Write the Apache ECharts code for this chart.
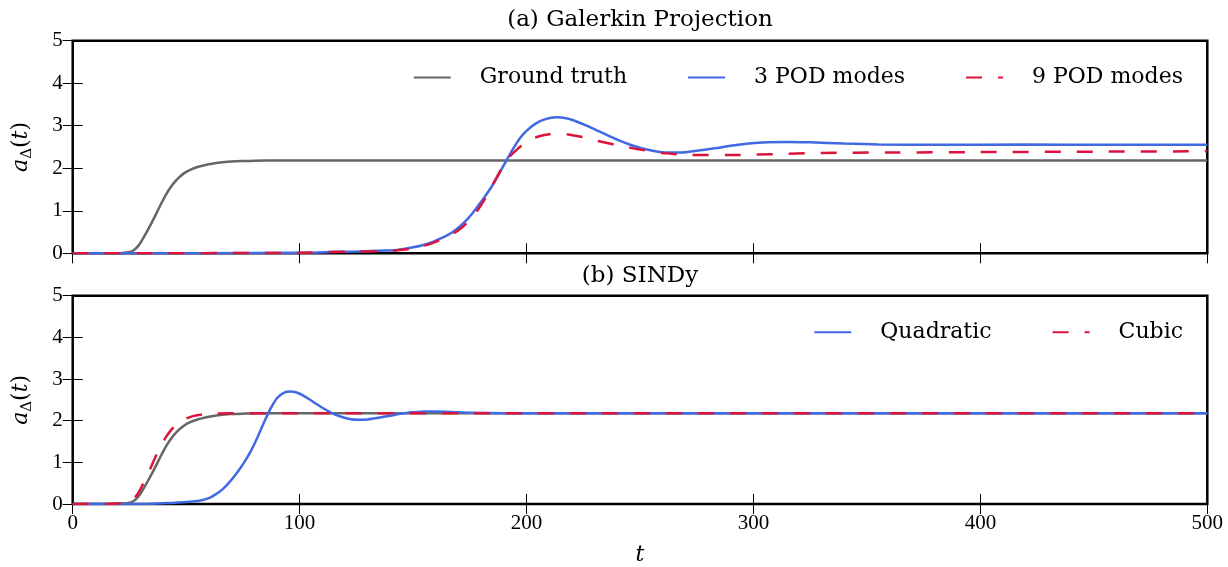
<!DOCTYPE html>
<html>
<head>
<meta charset="utf-8">
<script src="https://cdn.jsdelivr.net/npm/echarts@6/dist/echarts.min.js"></script>
<style>
  html, body { margin: 0; padding: 0; background: #fff; }
  #chart { width: 1228px; height: 567px; }
</style>
</head>
<body>
<div id="chart"></div>
<script>
// Axis ticks
const tTicks = [0, 100, 200, 300, 400, 500];
const aTicks = [0, 1, 2, 3, 4, 5];

// Ground truth trajectory (shared by both panels)
const truthT = [0, 10, 18, 22, 25, 27, 29, 31, 33, 35, 37, 39, 41, 43, 45, 47, 49, 52, 55, 58, 62, 66, 70, 76, 85, 100, 200, 300, 400, 500];
const truthA = [0, 0, 0, 0.01, 0.03, 0.08, 0.18, 0.35, 0.54, 0.74, 0.95, 1.17, 1.37, 1.54, 1.68, 1.79, 1.88, 1.97, 2.03, 2.07, 2.11, 2.14, 2.16, 2.17, 2.18, 2.18, 2.18, 2.18, 2.18, 2.18];

// (a) Galerkin projection, 3 POD modes
const pod3T = [0, 100, 113, 125, 135, 143, 150, 155, 160, 165, 169, 173, 176, 179, 182, 185, 188, 191, 194, 197, 200, 204, 208, 213, 218, 222, 227, 231, 236, 241, 247, 253, 258, 263, 268, 275, 283, 290, 298, 306, 315, 325, 340, 355, 380, 420, 460, 500];
const pod3A = [0, 0.01, 0.03, 0.04, 0.06, 0.08, 0.14, 0.2, 0.3, 0.42, 0.56, 0.75, 0.93, 1.14, 1.36, 1.60, 1.88, 2.17, 2.45, 2.70, 2.88, 3.05, 3.15, 3.20, 3.17, 3.10, 2.99, 2.89, 2.77, 2.65, 2.53, 2.44, 2.39, 2.37, 2.37, 2.41, 2.47, 2.53, 2.58, 2.61, 2.62, 2.61, 2.58, 2.56, 2.55, 2.56, 2.55, 2.55];

// (a) Galerkin projection, 9 POD modes
const pod9T = [0, 100, 113, 125, 135, 143, 150, 155, 160, 165, 170, 174, 178, 181, 184, 187, 190, 193, 196, 199, 202, 206, 210, 214, 219, 225, 230, 235, 240, 245, 250, 256, 262, 270, 280, 290, 300, 315, 330, 360, 400, 450, 500];
const pod9A = [0, 0.01, 0.03, 0.04, 0.05, 0.07, 0.12, 0.18, 0.27, 0.39, 0.54, 0.73, 0.98, 1.22, 1.50, 1.80, 2.08, 2.30, 2.45, 2.58, 2.68, 2.76, 2.80, 2.81, 2.79, 2.73, 2.66, 2.60, 2.54, 2.49, 2.44, 2.39, 2.35, 2.32, 2.31, 2.31, 2.32, 2.34, 2.36, 2.37, 2.38, 2.39, 2.40];

// (b) SINDy, quadratic library
const quadT = [0, 30, 40, 45, 50, 55, 60, 63, 66, 69, 72, 75, 78, 81, 84, 87, 90, 93, 96, 99, 102, 106, 110, 114, 118, 122, 126, 130, 135, 140, 145, 150, 155, 160, 167, 175, 190, 250, 350, 500];
const quadA = [0, 0, 0.02, 0.03, 0.05, 0.07, 0.14, 0.23, 0.35, 0.52, 0.72, 0.95, 1.22, 1.55, 1.92, 2.27, 2.54, 2.67, 2.70, 2.67, 2.59, 2.45, 2.31, 2.19, 2.10, 2.04, 2.02, 2.03, 2.07, 2.12, 2.17, 2.20, 2.22, 2.22, 2.21, 2.19, 2.18, 2.18, 2.18, 2.18];

// (b) SINDy, cubic library
const cubicT = [0, 15, 19, 23, 25, 27, 29, 31, 33, 35, 37, 39, 41, 43, 45, 47, 50, 53, 57, 62, 70, 100, 200, 300, 400, 500];
const cubicA = [0, 0, 0.01, 0.03, 0.06, 0.13, 0.27, 0.48, 0.70, 0.95, 1.19, 1.41, 1.60, 1.75, 1.87, 1.96, 2.05, 2.11, 2.15, 2.17, 2.18, 2.18, 2.18, 2.18, 2.18, 2.18];

const SERIF = 'DejaVu Serif';
const NUM = 'Liberation Serif';
const GRAY = '#666666', BLUE = '#4169e1', RED = '#dc143c';

const pairs = (ts, vs) => ts.map((t, i) => [t, vs[i]]);

const tickStyle = { show: true, inside: true, length: 10, lineStyle: { color: '#000', width: 1 } };

function tAxis(grid, position, withLabels) {
  const ax = {
    type: 'value', gridIndex: grid, position,
    min: tTicks[0], max: tTicks[tTicks.length - 1], interval: tTicks[1] - tTicks[0],
    axisLine: { show: false }, axisTick: tickStyle, splitLine: { show: false },
    axisLabel: { show: withLabels, margin: 9, fontFamily: NUM, fontSize: 21, color: '#000' }
  };
  if (withLabels) {
    ax.name = 't';
    ax.nameLocation = 'middle';
    ax.nameGap = 40;
    ax.nameTextStyle = { fontFamily: SERIF, fontStyle: 'italic', fontSize: 22, color: '#000' };
  }
  return ax;
}

const yName = '{i|a}{s|Δ}{n|(}{i|t}{n|)}';
function aAxis(grid, position, withLabels) {
  const ax = {
    type: 'value', gridIndex: grid, position,
    min: aTicks[0], max: aTicks[aTicks.length - 1], interval: aTicks[1] - aTicks[0],
    axisLine: { show: false }, axisTick: tickStyle, splitLine: { show: false },
    axisLabel: { show: withLabels, margin: 10, fontFamily: NUM, fontSize: 21, color: '#000' }
  };
  if (withLabels) {
    ax.name = yName;
    ax.nameLocation = 'middle';
    ax.nameGap = 38;
    ax.nameTextStyle = {
      fontFamily: SERIF, fontSize: 22, color: '#000',
      rich: {
        i: { fontFamily: SERIF, fontStyle: 'italic', fontSize: 22, lineHeight: 26, color: '#000' },
        n: { fontFamily: SERIF, fontSize: 22, lineHeight: 26, color: '#000' },
        s: { fontFamily: SERIF, fontSize: 15, lineHeight: 15, verticalAlign: 'bottom', color: '#000' }
      }
    };
  }
  return ax;
}

function line(name, ts, vs, color, xi, yi, dashed) {
  return {
    type: 'line', name, xAxisIndex: xi, yAxisIndex: yi,
    data: pairs(ts, vs), showSymbol: false, symbol: 'none',
    smooth: 0.3, clip: true,
    lineStyle: { color, width: 2.5, type: dashed ? [16, 16] : 'solid' },
    itemStyle: { color },
    emphasis: { disabled: true }
  };
}

const legendBase = {
  orient: 'horizontal', right: 45, padding: 0,
  itemWidth: 37, itemHeight: 14, itemGap: 60,
  // line-only keys: the marker dot is hidden
  itemStyle: { color: 'rgba(0,0,0,0)', borderWidth: 0, opacity: 0 },
  formatter: n => '{g|}' + n,
  textStyle: { fontFamily: SERIF, fontSize: 22, color: '#000', rich: { g: { width: 24 } } }
};

const option = {
  animation: false,
  backgroundColor: '#fff',
  grid: [
    { left: 72.7, right: 20.7, top: 40.7, height: 212.6, show: true, borderColor: '#000', borderWidth: 2.5, backgroundColor: 'transparent' },
    { left: 72.7, right: 20.7, top: 295.7, height: 212.8, show: true, borderColor: '#000', borderWidth: 2.5, backgroundColor: 'transparent' }
  ],
  xAxis: [tAxis(0, 'bottom', false), tAxis(0, 'top', false), tAxis(1, 'bottom', true), tAxis(1, 'top', false)],
  yAxis: [aAxis(0, 'left', true), aAxis(0, 'right', false), aAxis(1, 'left', true), aAxis(1, 'right', false)],
  legend: [
    Object.assign({}, legendBase, { top: 66.5, data: ['Ground truth', '3 POD modes', '9 POD modes'] }),
    Object.assign({}, legendBase, { top: 321.3, data: ['Quadratic', 'Cubic'] })
  ],
  graphic: [
    { type: 'text', x: 640, y: 20, style: { text: '(a) Galerkin Projection', fontFamily: SERIF, fontSize: 23, fill: '#000', align: 'center', verticalAlign: 'middle' } },
    { type: 'text', x: 640, y: 276, style: { text: '(b) SINDy', fontFamily: SERIF, fontSize: 23, fill: '#000', align: 'center', verticalAlign: 'middle' } }
  ],
  series: [
    line('Ground truth', truthT, truthA, GRAY, 0, 0, false),
    line('3 POD modes', pod3T, pod3A, BLUE, 0, 0, false),
    line('9 POD modes', pod9T, pod9A, RED, 0, 0, true),
    line('Ground truth', truthT, truthA, GRAY, 2, 2, false),
    line('Quadratic', quadT, quadA, BLUE, 2, 2, false),
    line('Cubic', cubicT, cubicA, RED, 2, 2, true)
  ]
};

const chart = echarts.init(document.getElementById('chart'), null, { renderer: 'canvas' });
chart.setOption(option);
</script>
</body>
</html>
